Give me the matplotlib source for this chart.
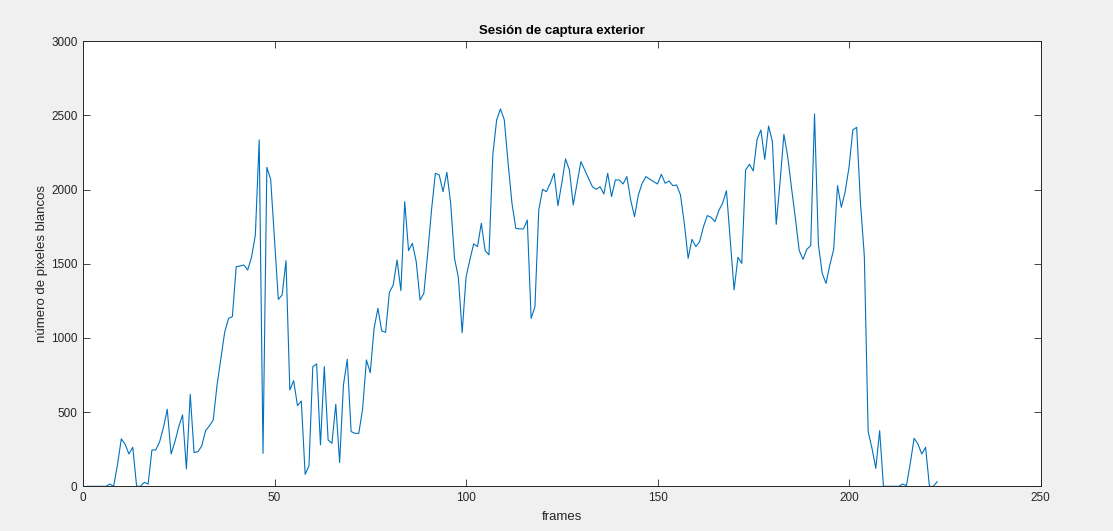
import matplotlib
matplotlib.use("Agg")
import matplotlib.pyplot as plt
import numpy as np

frames = list(range(1, 224))
pixeles_blancos = [
    0, 0, 0, 0, 0, 0, 15, 0, 145, 320,            # 1-10
    283, 218, 263, 0, 0, 27, 15, 245, 245, 300,   # 11-20
    395, 519, 218, 300, 402, 481, 117, 620, 227, 233,  # 21-30
    272, 375, 407, 447, 683, 860, 1040, 1132, 1144, 1481,  # 31-40
    1485, 1492, 1458, 1544, 1694, 2335, 222, 2150, 2069, 1660,  # 41-50
    1260, 1290, 1521, 649, 712, 544, 575, 81, 137, 807,  # 51-60
    825, 279, 807, 312, 290, 553, 160, 683, 856, 369,  # 61-70
    357, 357, 520, 852, 766, 1065, 1200, 1047, 1038, 1308,  # 71-80
    1357, 1526, 1319, 1919, 1589, 1638, 1515, 1256, 1301, 1571,  # 81-90
    1863, 2110, 2099, 1986, 2117, 1908, 1537, 1409, 1036, 1409,  # 91-100
    1526, 1634, 1616, 1773, 1589, 1560, 2234, 2470, 2544, 2470,  # 101-110
    2177, 1908, 1739, 1735, 1735, 1795, 1132, 1211, 1863, 2002,  # 111-120
    1986, 2043, 2110, 1892, 2043, 2207, 2132, 1897, 2043, 2189,  # 121-130
    2132, 2076, 2020, 2002, 2020, 1971, 2110, 1953, 2065, 2065,  # 131-140
    2038, 2088, 1930, 1818, 1964, 2043, 2088, 2070, 2054, 2038,  # 141-150
    2103, 2043, 2058, 2027, 2031, 1964, 1773, 1537, 1665, 1616,  # 151-160
    1649, 1750, 1825, 1813, 1784, 1859, 1908, 1993, 1660, 1324,  # 161-170
    1544, 1503, 2132, 2171, 2126, 2339, 2402, 2204, 2429, 2324,  # 171-180
    1766, 2050, 2373, 2222, 2009, 1807, 1589, 1530, 1598, 1622,  # 181-190
    2510, 1634, 1436, 1368, 1492, 1598, 2027, 1881, 1986, 2150,  # 191-200
    2402, 2420, 1908, 1553, 369, 256, 121, 375, 0, 0,  # 201-210
    0, 0, 0, 15, 5, 155, 324, 285, 218, 263,  # 211-220
    0, 0, 30,  # 221-223
]

x_ticks = [0, 50, 100, 150, 200, 250]
y_ticks = [0, 500, 1000, 1500, 2000, 2500, 3000]

plt.rcParams['font.family'] = ['Liberation Sans', 'DejaVu Sans']

fig = plt.figure(figsize=(11.13, 5.31), dpi=100, facecolor='#f0f0f0')
ax = fig.add_axes([83/1113, 1 - 486.3/531, (1040.5 - 83)/1113, (486.3 - 41.3)/531])
ax.set_facecolor('white')

ax.plot(frames, pixeles_blancos, color='#0072BD', linewidth=0.8)

ax.set_xlim(0, 250)
ax.set_ylim(0, 3000)
ax.set_xticks(x_ticks)
ax.set_yticks(y_ticks)

axis_color = '#262626'
for s in ax.spines.values():
    s.set_color(axis_color)
    s.set_linewidth(0.7)
ax.tick_params(direction='in', top=True, right=True, length=5, width=0.6,
               colors=axis_color, labelsize=8.5, labelcolor=axis_color, pad=4)

ax.set_title('Sesión de captura exterior', fontsize=9.5, fontweight='bold',
             color='black', pad=5)
ax.set_xlabel('frames', fontsize=9.5, color=axis_color, labelpad=5)
ax.set_ylabel('número de pixeles blancos', fontsize=9.5, color=axis_color, labelpad=2)

fig.savefig('out.png', dpi=100, facecolor=fig.get_facecolor())
